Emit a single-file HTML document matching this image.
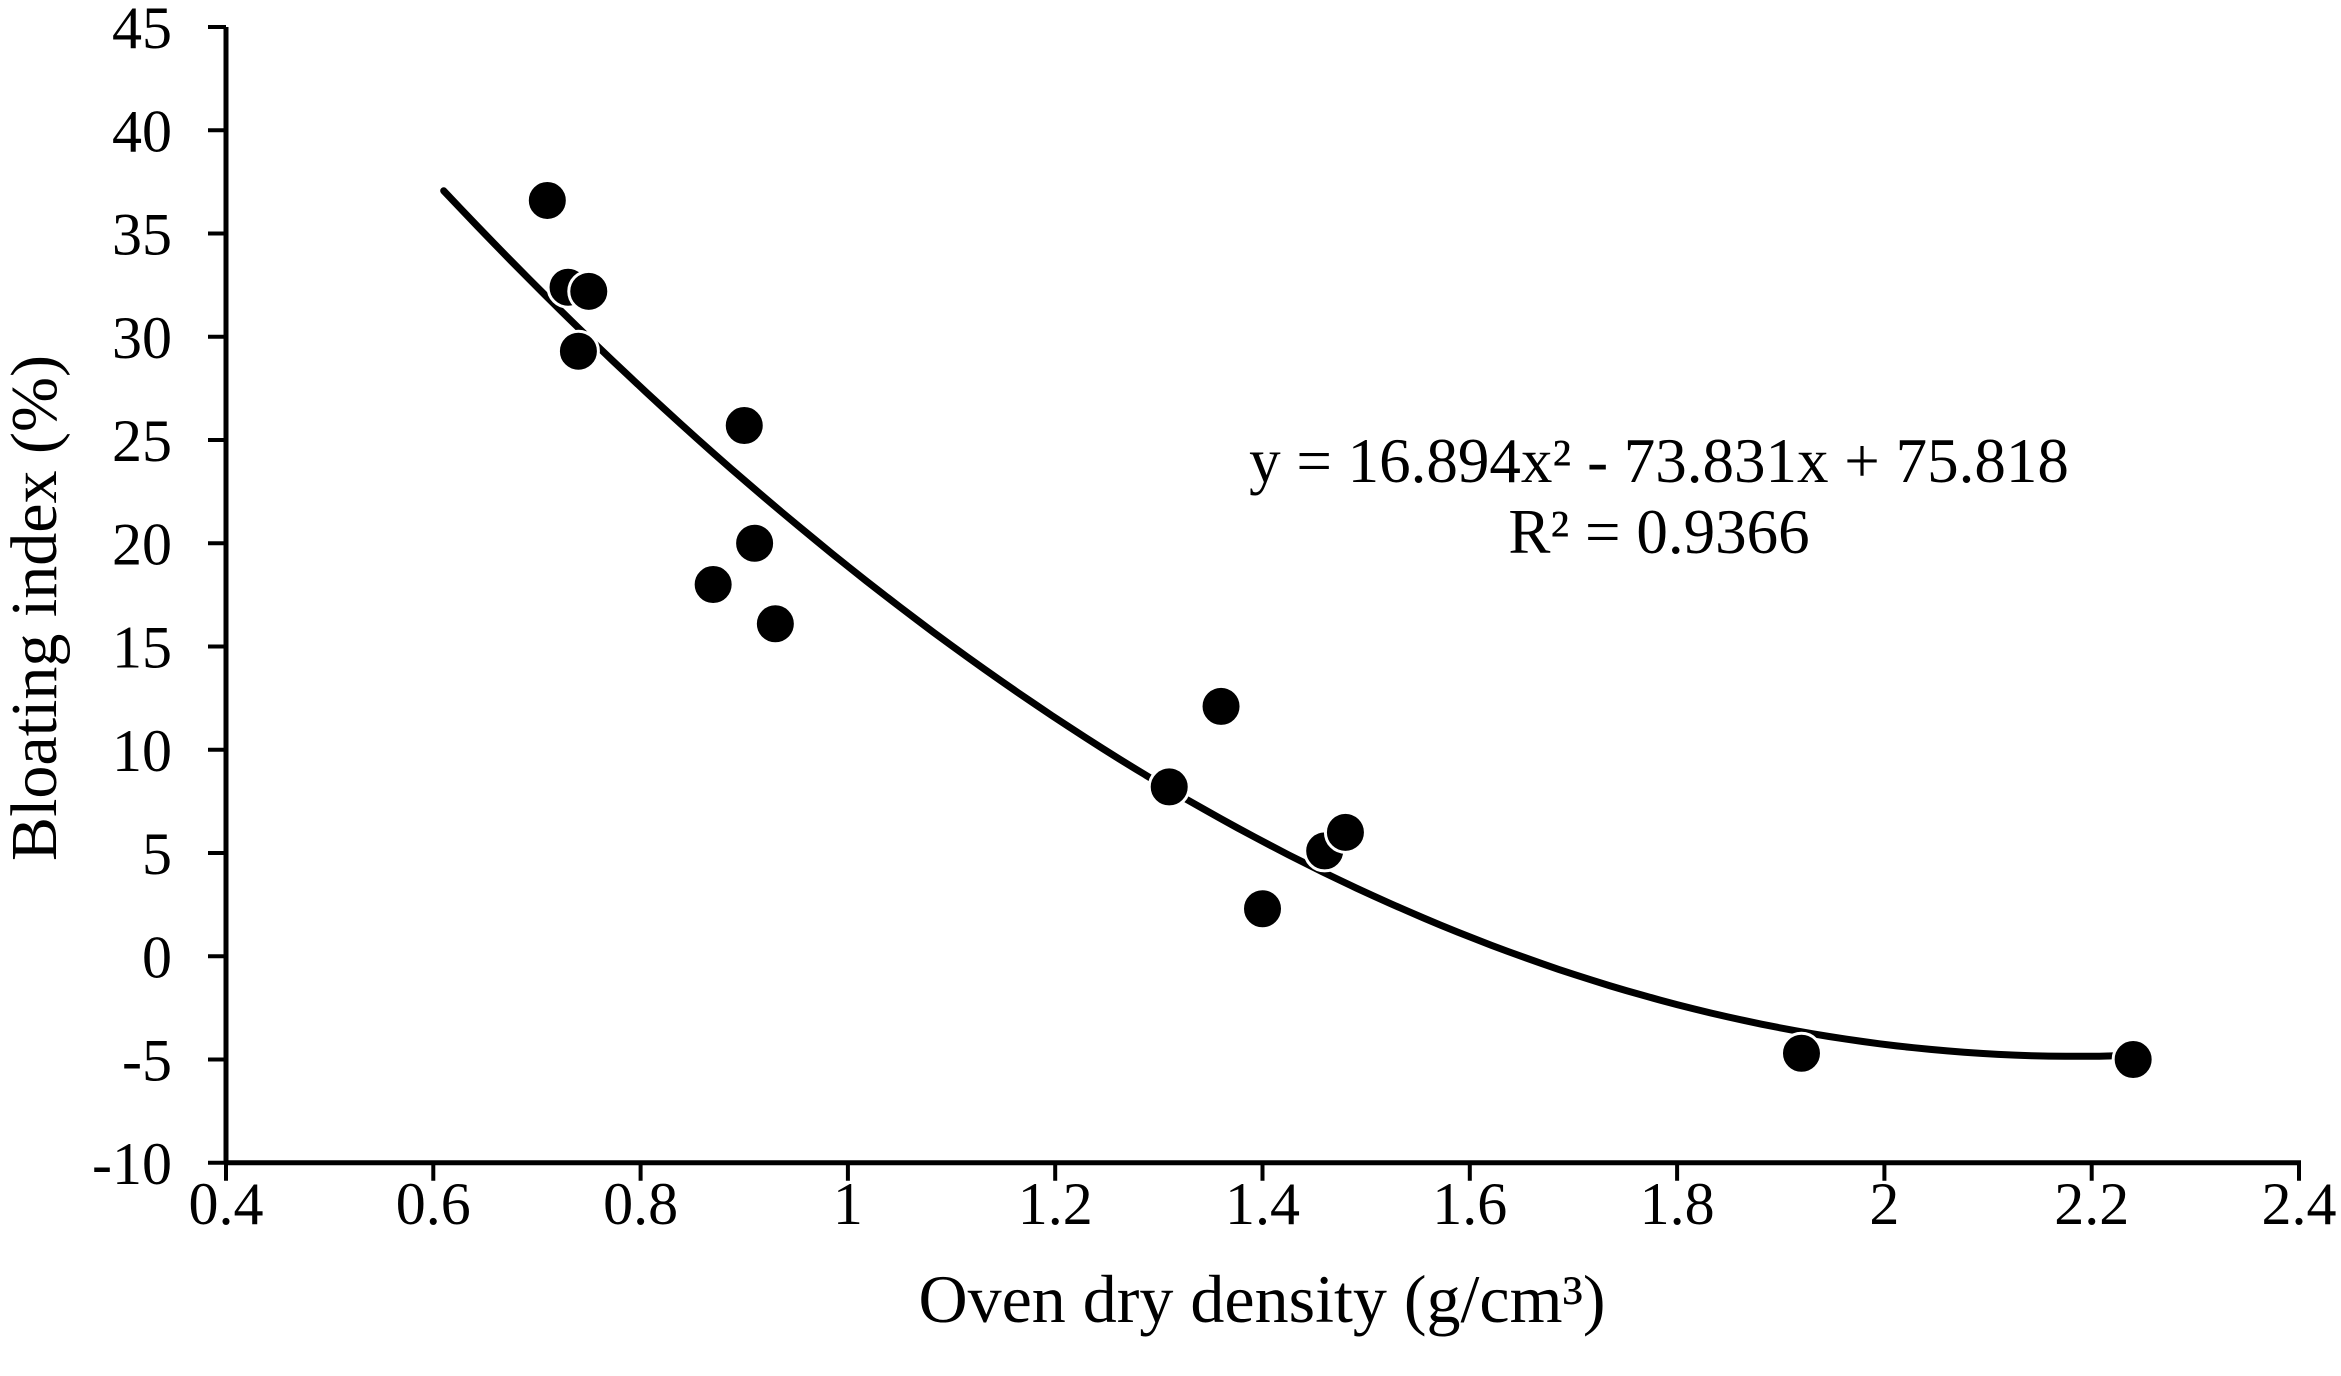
<!DOCTYPE html>
<html><head><meta charset="utf-8"><style>
body{margin:0;background:#fff}
svg{display:block;font-family:"Liberation Serif",serif}
</style></head><body>
<svg id="chart" width="2341" height="1376" viewBox="0 0 2341 1376">
<g id="axes"></g>
<g id="marks"></g>
<text x="1659" y="482" font-size="63" text-anchor="middle">y = 16.894x² - 73.831x + 75.818</text>
<text x="1659" y="553" font-size="63" text-anchor="middle">R² = 0.9366</text>
<text x="1262" y="1322" font-size="68" text-anchor="middle">Oven dry density (g/cm³)</text>
<text x="0" y="0" font-size="66" text-anchor="middle" transform="translate(56,608) rotate(-90)">Bloating index (%)</text>
</svg>
<script>
const xValues=[0.71,0.73,0.75,0.74,0.90,0.91,0.87,0.93,1.31,1.36,1.40,1.46,1.48,1.92,2.24];
const yValues=[36.6,32.4,32.2,29.3,25.7,20.0,18.0,16.1,8.2,12.1,2.3,5.1,6.0,-4.7,-5.0];
const xTicks=[0.4,0.6,0.8,1,1.2,1.4,1.6,1.8,2,2.2,2.4];
const yTicks=[45,40,35,30,25,20,15,10,5,0,-5,-10];
const trendCoef=[16.894,-73.831,75.818];
const trendRange=[0.61,2.24];
const NS='http://www.w3.org/2000/svg';
const X=v=>226+(v-0.4)*1036.5;
const Y=v=>27+(45-v)*20.65;
const axes=document.getElementById('axes'),marks=document.getElementById('marks');
function mk(tag,attrs,parent){const e=document.createElementNS(NS,tag);for(const k in attrs)e.setAttribute(k,attrs[k]);parent.appendChild(e);return e;}
let l=mk('line',{x1:X(0.4),y1:Y(45),x2:X(0.4),y2:Y(-10),stroke:'#000','stroke-width':5},axes);


l=mk('line',{x1:X(0.4)-2,y1:Y(-10),x2:X(2.4)+2,y2:Y(-10),stroke:'#000','stroke-width':5},axes);


yTicks.forEach(t=>{
 const tk=mk('line',{x1:X(0.4)-18,y1:Y(t),x2:X(0.4),y2:Y(t),stroke:'#000','stroke-width':4},axes);
 
 
 const tx=mk('text',{x:172,y:Y(t)+21,'font-size':60,'text-anchor':'end'},axes);
 tx.textContent=t;
 
 
});
xTicks.forEach(t=>{
 const tk=mk('line',{x1:X(t),y1:Y(-10),x2:X(t),y2:Y(-10)+18,stroke:'#000','stroke-width':4},axes);
 
 
 const tx=mk('text',{x:X(t),y:1224,'font-size':60,'text-anchor':'middle'},axes);
 tx.textContent=t;
 
 
});
let d='';
for(let i=0;i<=100;i++){const xv=trendRange[0]+(trendRange[1]-trendRange[0])*i/100;const yv=trendCoef[0]*xv*xv+trendCoef[1]*xv+trendCoef[2];d+=(i?'L':'M')+X(xv).toFixed(1)+' '+Y(yv).toFixed(1);}
const tr=mk('path',{d:d,fill:'none',stroke:'#000','stroke-width':7,'stroke-linecap':'round'},marks);


xValues.forEach((xv,i)=>{
 const c=mk('circle',{cx:X(xv),cy:Y(yValues[i]),r:20,fill:'#000',stroke:'#fff','stroke-width':3},marks);
 
 
});
</script>
</body></html>
